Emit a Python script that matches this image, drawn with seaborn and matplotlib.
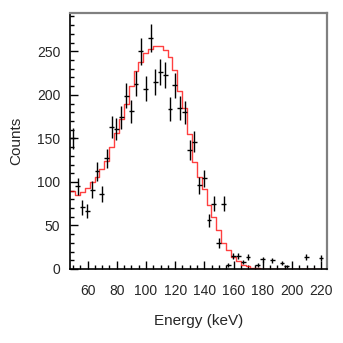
import matplotlib
matplotlib.use("Agg")
import matplotlib.pyplot as plt
import numpy as np
import pandas as pd
import seaborn as sns
from matplotlib.ticker import MultipleLocator

# bin centres (keV), measured counts and model expectation per bin
energies = [49.80, 53.14, 56.47, 59.81, 63.14, 66.48, 69.81, 73.15, 76.48, 79.82,
            83.15, 86.49, 89.82, 93.16, 96.49, 99.83, 103.16, 106.50, 109.83, 113.17,
            116.50, 119.84, 123.17, 126.51, 129.84, 133.18, 136.51, 139.85, 143.18, 146.52,
            149.85, 153.19, 156.52, 159.86, 163.19, 166.53, 169.86, 173.20, 176.53, 179.87,
            183.20, 186.54, 189.87, 193.21, 196.54, 199.88, 203.21, 206.55, 209.88, 213.22,
            216.55, 219.89]
counts = [150, 95, 71, 67, 91, 112, 86, 127, 163, 161,
          174, 199, 181, 213, 250, 207, 265, 215, 226, 223,
          184, 211, 185, 180, 137, 146, 96, 104, 56, 75,
          30, 75, 5, 15, 15, 8, 14, 0, 5, 11,
          0, 10, 0, 7, 3, 0, 0, 0, 14, 0,
          0, 13]
model = [90, 85, 89, 93, 100, 106, 115, 124, 140, 156,
         172, 190, 210, 227, 238, 248, 253, 256, 256, 252,
         244, 228, 204, 185, 155, 123, 106, 92, 74, 60,
         45, 30, 22, 14, 9, 5, 3, 1.5, 0.7, 0.3,
         0, 0, 0, 0, 0, 0, 0, 0, 0, 0,
         0, 0]

df = pd.DataFrame({"energy": energies, "counts": counts, "model": model})
width = energies[1] - energies[0]

sns.set_style("ticks")
plt.rcParams["font.family"] = ["Liberation Sans", "DejaVu Sans"]

fig = plt.figure(figsize=(3.43, 3.43), dpi=100)
ax = fig.add_axes([70 / 343, 1 - 269 / 343, 257 / 343, 256 / 343])

sns.histplot(data=df, x="energy", weights="model", bins=len(energies),
             binrange=(energies[0] - width / 2, energies[-1] + width / 2),
             element="step", fill=False, color="red", linewidth=1.0, alpha=0.75, ax=ax)

pts = df[df["counts"] > 0]
ax.errorbar(pts["energy"], pts["counts"], xerr=width / 2, yerr=np.sqrt(pts["counts"]),
            fmt="none", ecolor="black", elinewidth=1.0, capsize=0)

ax.set_xlim(48, 224)
ax.set_ylim(0, 294)
ax.xaxis.set_major_locator(MultipleLocator(20))
ax.xaxis.set_minor_locator(MultipleLocator(5))
ax.yaxis.set_major_locator(MultipleLocator(50))
ax.yaxis.set_minor_locator(MultipleLocator(10))
ax.tick_params(which="both", direction="in", top=False, right=False, color="black",
               labelsize=10, width=1)
ax.tick_params(which="major", length=6)
ax.tick_params(which="minor", length=3)
ax.tick_params(axis="x", pad=11)
ax.tick_params(axis="y", pad=7)

for side in ["left", "bottom"]:
    ax.spines[side].set_color("black")
    ax.spines[side].set_linewidth(1.2)
for side in ["top", "right"]:
    ax.spines[side].set_visible(True)
    ax.spines[side].set_color("#808080")
    ax.spines[side].set_linewidth(1.6)

ax.set_xlabel("Energy (keV)", fontsize=11, labelpad=11)
ax.set_ylabel("Counts", fontsize=11, labelpad=10)

fig.savefig("out.png", dpi=100)
